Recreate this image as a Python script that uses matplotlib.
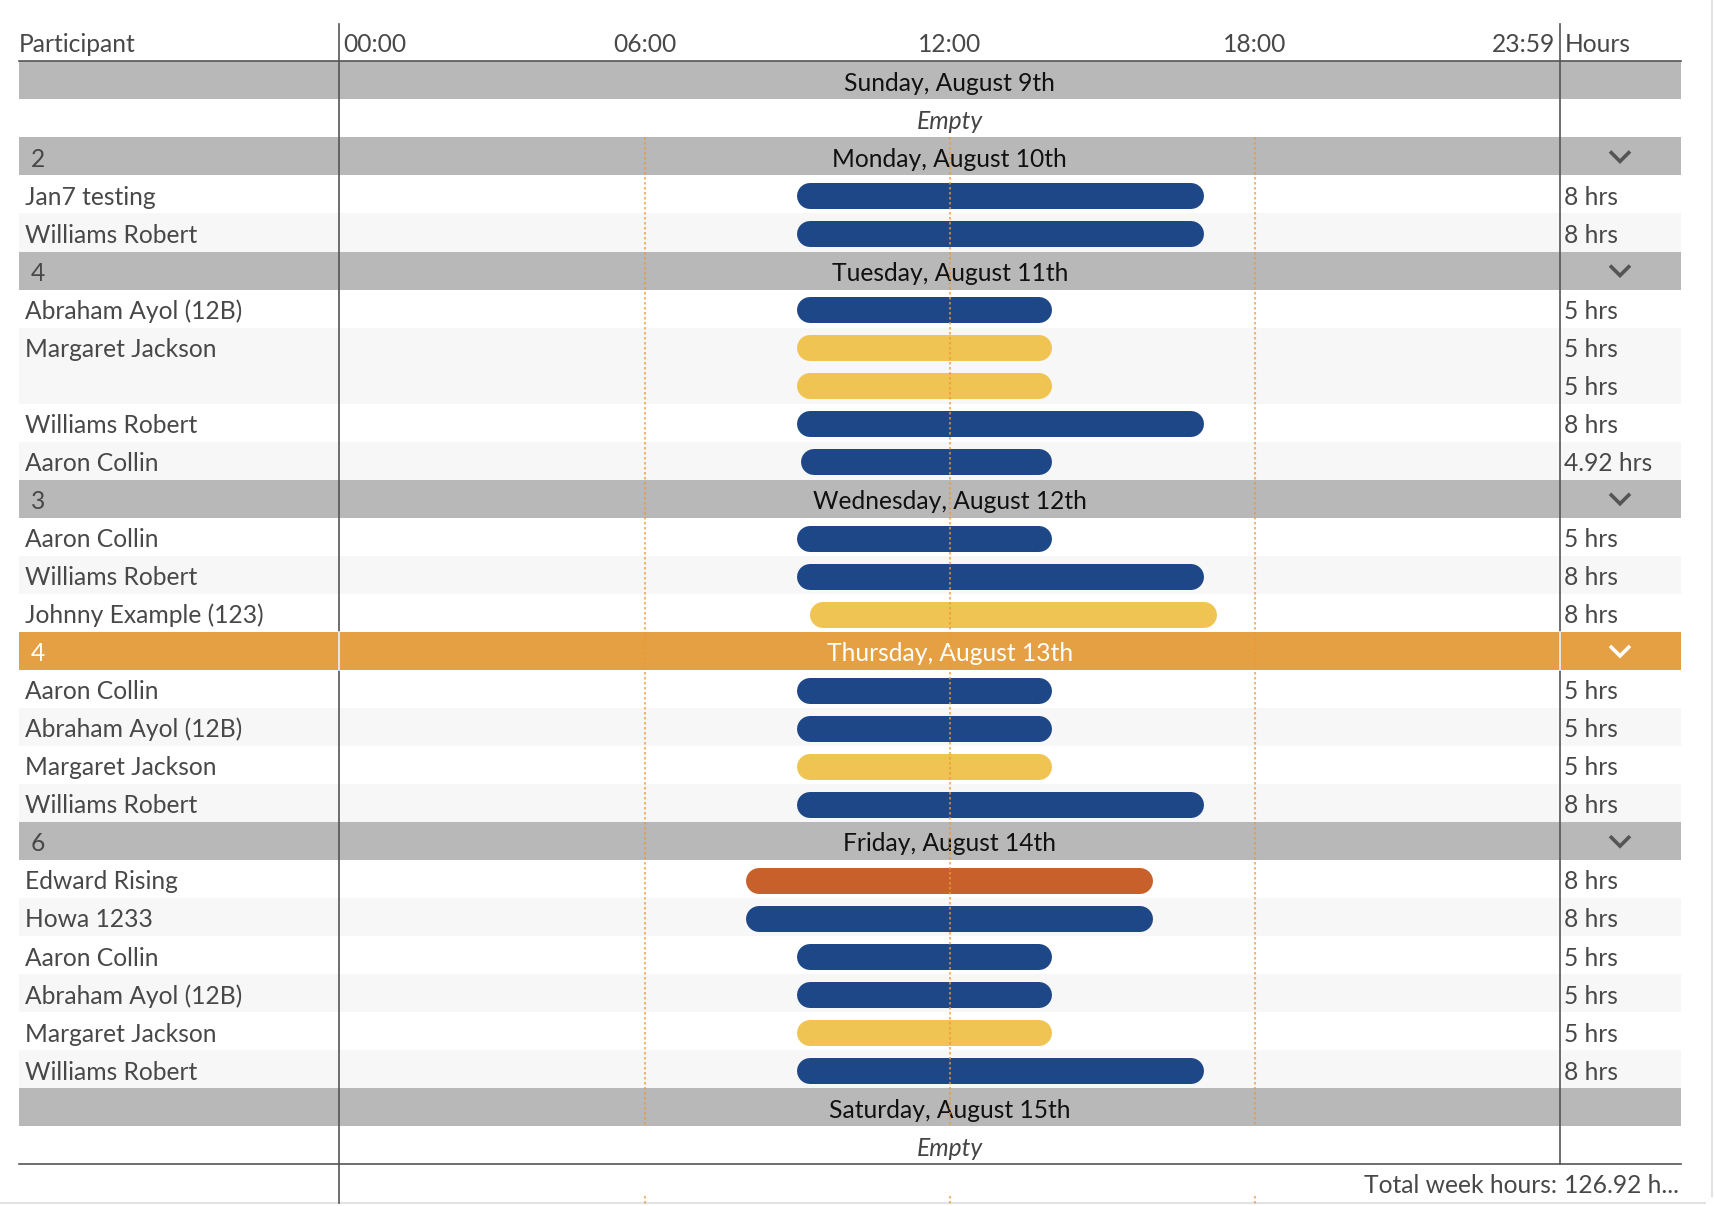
import matplotlib
matplotlib.use('Agg')
import matplotlib.pyplot as plt
from matplotlib.transforms import blended_transform_factory, ScaledTranslation

plt.rcParams['font.family'] = ['Lato', 'DejaVu Sans']

# --- data ---
day_titles = ['Sunday, August 9th', 'Monday, August 10th', 'Tuesday, August 11th',
              'Wednesday, August 12th', 'Thursday, August 13th', 'Friday, August 14th',
              'Saturday, August 15th']
day_counts = ['', '2', '4', '3', '4', '6', '']
highlight_day = 4

# one entry per timeline row (empty name = second shift of the participant above)
entry_day = [1, 1,
             2, 2, 2, 2, 2,
             3, 3, 3,
             4, 4, 4, 4,
             5, 5, 5, 5, 5, 5]
entry_name = ['Jan7 testing', 'Williams Robert',
              'Abraham Ayol (12B)', 'Margaret Jackson', '', 'Williams Robert', 'Aaron Collin',
              'Aaron Collin', 'Williams Robert', 'Johnny Example (123)',
              'Aaron Collin', 'Abraham Ayol (12B)', 'Margaret Jackson', 'Williams Robert',
              'Edward Rising', 'Howa 1233', 'Aaron Collin', 'Abraham Ayol (12B)',
              'Margaret Jackson', 'Williams Robert']
entry_start = [9, 9,
               9, 9, 9, 9, 9.08,
               9, 9, 9.25,
               9, 9, 9, 9,
               8, 8, 9, 9, 9, 9]
entry_end = [17, 17,
             14, 14, 14, 17, 14,
             14, 17, 17.25,
             14, 14, 14, 17,
             16, 16, 14, 14, 14, 17]
entry_kind = ['a', 'a',
              'a', 'b', 'b', 'a', 'a',
              'a', 'a', 'b',
              'a', 'a', 'b', 'a',
              'c', 'a', 'a', 'a', 'b', 'a']
entry_hours = ['8 hrs', '8 hrs',
               '5 hrs', '5 hrs', '5 hrs', '8 hrs', '4.92 hrs',
               '5 hrs', '8 hrs', '8 hrs',
               '5 hrs', '5 hrs', '5 hrs', '8 hrs',
               '8 hrs', '8 hrs', '5 hrs', '5 hrs', '5 hrs', '8 hrs']
time_ticks = [0, 6, 12, 18, 24]
time_labels = ['00:00', '06:00', '12:00', '18:00', '23:59']
total_label = '126.92 h...'

kind_colors = {'a': '#1d4787', 'b': '#efc452', 'c': '#c8602c'}

# --- layout (pixels) ---
W, H = 1714, 1206
LEFT, RIGHT = 19, 1681
PDIV, HDIV = 339.3, 1560.3
TOP = 61.3
ROW_H = 38.04
TXT = '#484848'
HEAD_GRAY = '#b8b8b8'
ORANGE = '#e5a043'
FS = 17.7

# build row list
rows = []
for d, title in enumerate(day_titles):
    rows.append(('day', d))
    idx = [i for i, dd in enumerate(entry_day) if dd == d]
    if not idx:
        rows.append(('empty', d))
    stripe = -1
    for i in idx:
        if entry_name[i]:
            stripe += 1
        rows.append(('entry', (i, stripe % 2)))
n_rows = len(rows)
BOTTOM = TOP + n_rows * ROW_H

fig = plt.figure(figsize=(W / 100, H / 100), dpi=100)
base = fig.add_axes([0, 0, 1, 1])
base.set_xlim(0, W)
base.set_ylim(H, 0)
base.axis('off')

tl = fig.add_axes([PDIV / W, 1 - BOTTOM / H, (HDIV - PDIV) / W, (BOTTOM - TOP) / H])
tl.set_xlim(0, 24)
tl.set_ylim(n_rows, 0)
tl.axis('off')
tl.patch.set_alpha(0)

# header
HEAD_Y = 52
base.text(LEFT, HEAD_Y, 'Participant', fontsize=FS, color=TXT, va='baseline')
htrans = blended_transform_factory(tl.transData, base.transData)
for t, lab in zip(time_ticks, time_labels):
    ha = 'left' if t == 0 else ('right' if t == 24 else 'center')
    off = 4 if t == 0 else (-5 if t == 24 else 0)
    tl.text(t, HEAD_Y, lab, fontsize=FS, color=TXT, va='baseline', ha=ha,
            transform=htrans + ScaledTranslation(off / 100, 0, fig.dpi_scale_trans))
base.text(HDIV + 4, HEAD_Y, 'Hours', fontsize=FS, color=TXT, va='baseline')
base.plot([LEFT, RIGHT], [TOP, TOP], color='#555555', lw=1.2)

# rows
for r, (kind, payload) in enumerate(rows):
    y0 = TOP + r * ROW_H
    base_y = y0 + 0.77 * ROW_H
    if kind == 'day':
        d = payload
        hl = d == highlight_day
        bg = ORANGE if hl else HEAD_GRAY
        fg = 'white' if hl else '#111111'
        base.fill_between([LEFT, RIGHT], y0, y0 + ROW_H, color=bg, lw=0)
        tl.text(12, r + 0.77, day_titles[d], fontsize=FS, color=fg, ha='center', va='baseline')
        if day_counts[d]:
            c = 'white' if hl else TXT
            base.text(LEFT + 12, base_y, day_counts[d], fontsize=FS, color=c, va='baseline')
            cx, cy = 1620, y0 + ROW_H / 2
            base.plot([cx - 10, cx, cx + 10], [cy - 5, cy + 5, cy - 5],
                      color='white' if hl else '#555555', lw=2.6, solid_joinstyle='miter',
                      solid_capstyle='butt')
        if hl:
            base.plot([PDIV, PDIV], [y0, y0 + ROW_H], color='white', lw=1.2, zorder=5)
            base.plot([HDIV, HDIV], [y0, y0 + ROW_H], color='white', lw=1.2, zorder=5)
    elif kind == 'empty':
        tl.text(12, r + 0.77, 'Empty', fontsize=FS, color='#444444', ha='center',
                va='baseline', style='italic')
    else:
        i, stripe = payload
        if stripe:
            base.fill_between([LEFT, RIGHT], y0, y0 + ROW_H, color='#f7f7f7', lw=0)
        if entry_name[i]:
            base.text(LEFT + 6, base_y, entry_name[i], fontsize=FS, color=TXT, va='baseline')
        base.text(HDIV + 4, base_y, entry_hours[i], fontsize=FS, color=TXT, va='baseline')

# bars
bar_px = 26
px_per_h = (HDIV - PDIV) / 24
rad = bar_px / 2 / px_per_h
for r, (kind, payload) in enumerate(rows):
    if kind != 'entry':
        continue
    i = payload[0]
    tl.plot([entry_start[i] + rad, entry_end[i] - rad], [r + 0.545, r + 0.545],
            color=kind_colors[entry_kind[i]], lw=bar_px * 0.72, solid_capstyle='round', zorder=2)

# dotted guides
first_row = 2
last_row = n_rows - 1
for t in time_ticks[1:-1]:
    tl.plot([t, t], [first_row, last_row], color='#eb9a3a', alpha=0.7, lw=1.5,
            ls=(0, (1.2, 1.2)), zorder=3)
    tl.plot([t, t], [n_rows + 0.83, n_rows + 1.1], color='#eb9a3a', alpha=0.7, lw=1.5,
            ls=(0, (1.2, 1.2)), zorder=3, clip_on=False)

# dividers and bottom
base.plot([PDIV, PDIV], [24, 1203], color='#555555', lw=1.2, zorder=4)
base.plot([HDIV, HDIV], [24, BOTTOM], color='#555555', lw=1.2, zorder=4)
base.plot([LEFT, RIGHT], [BOTTOM, BOTTOM], color='#555555', lw=1.2, zorder=4)
base.text(HDIV - 3, 1193, 'Total week hours:', fontsize=FS, color=TXT, ha='right', va='baseline')
base.text(HDIV + 4, 1193, total_label, fontsize=FS, color=TXT, va='baseline')

# faint card border
base.plot([1712, 1712], [0, 1196], color='#e3e3e3', lw=1.5)
base.plot([0, 1705], [1203, 1203], color='#e3e3e3', lw=1.5)

fig.savefig('out.png', dpi=100)
